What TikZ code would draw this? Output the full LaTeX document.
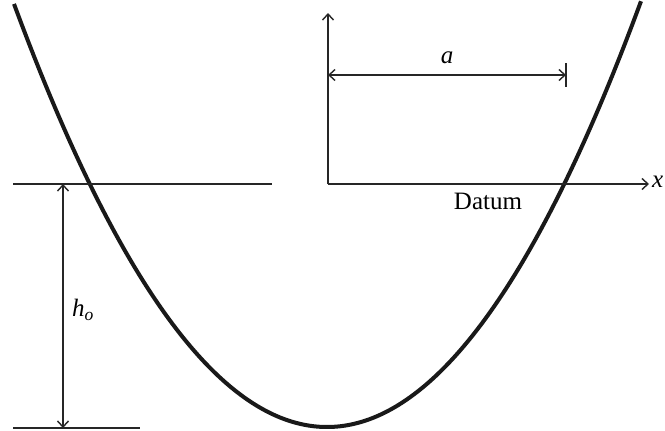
\documentclass[tikz,border=0pt]{standalone}
\usepackage{fontspec}
\setmainfont{Liberation Serif}
\usetikzlibrary{arrows.meta}
\tikzset{
  thinline/.style={line width=1.4pt, draw=black!85},
  dimarrow/.style={thinline, {Straight Barb[length=6pt,width=11pt]}-{Straight Barb[length=6pt,width=11pt]}},
  axisarrow/.style={thinline, -{Straight Barb[length=6pt,width=11pt]}},
  curve/.style={line width=4pt, draw=black!90},
  lbl/.style={font=\fontsize{25}{28}\selectfont, inner sep=0pt}
}
\begin{document}
\begin{tikzpicture}[x=1pt,y=-1pt]
\useasboundingbox (0,0) rectangle (665,431);
% coordinates
\coordinate (lineL) at (13,184);
\coordinate (lineR) at (272,184);
\coordinate (botL) at (13,428);
\coordinate (botR) at (140,428);
\coordinate (hTop) at (63,184);
\coordinate (hBot) at (63,428);
\coordinate (origin) at (328,184);
\coordinate (yEnd) at (328,13);
\coordinate (xEnd) at (649,184);
\coordinate (aL) at (328,75);
\coordinate (aR) at (566,75);
\coordinate (tickT) at (566,63);
\coordinate (tickB) at (566,87);
% parabola
\draw[curve] plot[domain=14:641, samples=120, smooth] (\x, {427-0.00432*(\x-327)*(\x-327)});
% horizontal lines
\draw[thinline] (lineL) -- (lineR);
\draw[thinline] (botL) -- (botR);
% h_o dimension
\draw[dimarrow] (hTop) -- (hBot);
\node[lbl, anchor=west] (ho) at (72,310) {\itshape h\textsubscript{o}};
% axes
\draw[axisarrow] (origin) -- (yEnd);
\draw[axisarrow] (origin) -- (xEnd);
\node[lbl, anchor=west] (xl) at (652,182) {\itshape x};
% a dimension
\draw[dimarrow] (aL) -- (aR);
\draw[thinline] (tickT) -- (tickB);
\node[lbl] (al) at (447,58) {\itshape a};
\node[lbl] (datum) at (488,201) {Datum};
\end{tikzpicture}
\end{document}
